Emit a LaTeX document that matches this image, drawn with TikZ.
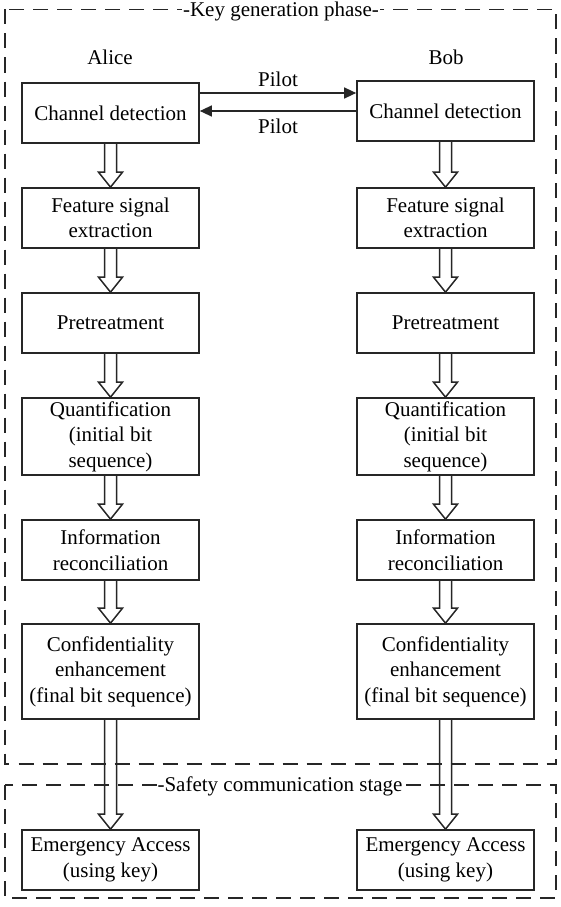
\documentclass[tikz,border=0pt]{standalone}
\usepackage{fontspec}
\setmainfont{Liberation Serif}
\newfontfamily\tnr{Liberation Serif}
\usetikzlibrary{arrows.meta,calc}
\begin{document}
\begin{tikzpicture}[x=1pt,y=-1pt,
  every node/.style={font=\tnr\fontsize{21}{25.5}\selectfont},
  stepbox/.style={draw=black!85,line width=1.7pt,minimum width=177pt,align=center,inner sep=0pt},
  phase/.style={draw=black!85,line width=1.8pt,dash pattern=on 15pt off 9pt},
  pilot/.style={draw=black!85,line width=1.4pt,-{Triangle[length=12pt,width=11pt]}},
  hollow/.style={draw=black!85,line width=1.5pt,line join=miter}]
\useasboundingbox (0,0) rectangle (560,907);
\fill[white] (0,0) rectangle (560,907);

% phase frames
\draw[phase] (5,9.5) rectangle (556,764);
\draw[phase] (5,785) rectangle (556,898);
\node[fill=white,inner sep=1pt] (t1) at (281,11) {-Key generation phase-};
\node[fill=white,inner sep=1pt] (t2) at (280,786) {-Safety communication stage};

% headers
\node (alicelbl) at (110,57) {Alice};
\node (boblbl) at (446,57) {Bob};

% Alice column
\node[stepbox,minimum height=60pt] (a1) at (110.5,113) {Channel detection};
\node[stepbox,minimum height=60pt] (a2) at (110.5,218) {Feature signal\\extraction};
\node[stepbox,minimum height=60pt] (a3) at (110.5,323) {Pretreatment};
\node[stepbox,minimum height=77pt] (a4) at (110.5,436.5) {Quantification\\(initial bit\\sequence)};
\node[stepbox,minimum height=60pt] (a5) at (110.5,550) {Information\\reconciliation};
\node[stepbox,minimum height=95pt] (a6) at (110.5,671.5) {Confidentiality\\enhancement\\(final bit sequence)};
\node[stepbox,minimum height=60pt] (a7) at (110.5,860) {Emergency Access\\(using key)};

% Bob column
\node[stepbox,minimum height=60pt] (b1) at (445.5,111) {Channel detection};
\node[stepbox,minimum height=60pt] (b2) at (445.5,218) {Feature signal\\extraction};
\node[stepbox,minimum height=60pt] (b3) at (445.5,323) {Pretreatment};
\node[stepbox,minimum height=77pt] (b4) at (445.5,436.5) {Quantification\\(initial bit\\sequence)};
\node[stepbox,minimum height=60pt] (b5) at (445.5,550) {Information\\reconciliation};
\node[stepbox,minimum height=95pt] (b6) at (445.5,671.5) {Confidentiality\\enhancement\\(final bit sequence)};
\node[stepbox,minimum height=60pt] (b7) at (445.5,860) {Emergency Access\\(using key)};

% pilot arrows
\draw[pilot] ([yshift=20pt]a1.east) -- ([yshift=18pt]b1.west);
\draw[pilot] (b1.west) -- ([yshift=2pt]a1.east);
\node (p1) at (278,79) {Pilot};
\node (p2) at (278,126) {Pilot};

% hollow block arrows
\newcommand{\blockarr}[2]{%
  \draw[hollow] ($(#1.south)+(-6,0)$) -- ($(#2.north)+(-6,-15)$) -- ($(#2.north)+(-12,-15)$)
    -- (#2.north) -- ($(#2.north)+(12,-15)$) -- ($(#2.north)+(6,-15)$) -- ($(#1.south)+(6,0)$);}
\foreach \c in {a,b}{
  \blockarr{\c1}{\c2}
  \blockarr{\c2}{\c3}
  \blockarr{\c3}{\c4}
  \blockarr{\c4}{\c5}
  \blockarr{\c5}{\c6}
  \blockarr{\c6}{\c7}
}
\end{tikzpicture}
\end{document}
